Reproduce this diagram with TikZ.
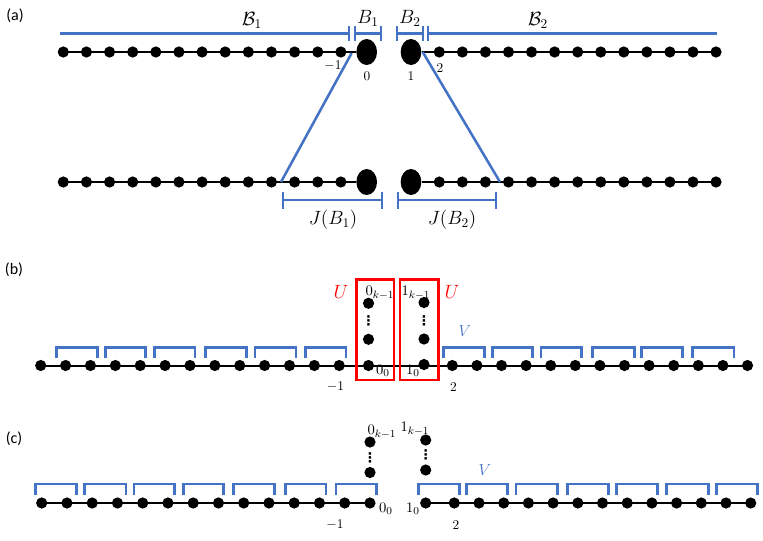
\documentclass[tikz,border=0pt]{standalone}
\usepackage{fontspec}
\newfontfamily\calib{Carlito}
\newfontfamily\djv{DejaVu Sans}
\usetikzlibrary{shapes.geometric}
\definecolor{myblue}{RGB}{68,114,196}
\begin{document}
\begin{tikzpicture}[x=0.75pt,y=-0.75pt,
  dot/.style={circle,fill=black,inner sep=0pt,minimum size=8.4pt},
  bigdot/.style={ellipse,fill=black,inner sep=0pt,minimum width=15.5pt,minimum height=19.5pt},
  chain/.style={line width=1.5pt},
  blueline/.style={draw=myblue,line width=1.9pt},
  redbox/.style={draw=red,line width=1.9pt},
  lbl/.style={inner sep=0pt,font=\fontsize{14}{16}\selectfont},
  num/.style={inner sep=0pt,font=\fontsize{10}{12}\selectfont},
  idx/.style={inner sep=0pt,font=\fontsize{11}{13}\selectfont},
  vd/.style={inner sep=0pt,font=\djv\bfseries\fontsize{10}{12}\selectfont},
  panel/.style={inner sep=0pt,font=\calib\fontsize{12}{14}\selectfont}]
\useasboundingbox (0,0) rectangle (763,540);

% ---------------- panel (a)
\node[panel] (pa) at (15,16) {(a)};
% top row
\foreach \i in {0,...,12} \node[dot] (atL\i) at ({63.3+23.13*\i},52) {};
\node[bigdot] (at0) at (366.7,52) {};
\node[bigdot] (at1) at (411,52) {};
\foreach \i in {0,...,12} \node[dot] (atR\i) at ({439.3+23.06*\i},52) {};
\draw[chain] (atL0.center) -- (at0);
\draw[chain] (at1) -- (atR12.center);
% bottom row
\foreach \i in {0,...,12} \node[dot] (abL\i) at ({63.3+23.13*\i},182) {};
\node[bigdot] (ab0) at (366.7,182) {};
\node[bigdot] (ab1) at (411,182) {};
\foreach \i in {0,...,12} \node[dot] (abR\i) at ({439.3+23.06*\i},182) {};
\draw[chain] (abL0.center) -- (ab0);
\draw[chain] (ab1) -- (abR12.center);
% intervals on top
\draw[blueline] (60,33.5) -- (349,33.5) (349,26) -- (349,41);
\draw[blueline] (355,26) -- (355,41) (355,33.5) -- (381,33.5) (381,26) -- (381,41);
\draw[blueline] (397,26) -- (397,41) (397,33.5) -- (423,33.5) (423,26) -- (423,41);
\draw[blueline] (428,26) -- (428,41) (428,33.5) -- (717,33.5);
\node[lbl] (lcb1) at (252,20) {$\mathcal{B}_1$};
\node[lbl] (lb1) at (368,18) {$B_1$};
\node[lbl] (lb2) at (410,18) {$B_2$};
\node[lbl] (lcb2) at (538,20) {$\mathcal{B}_2$};
\node[num] (am1) at (333,66) {$-1$};
\node[num] (a0) at (367,76) {$0$};
\node[num] (a1) at (411,76) {$1$};
\node[num] (a2) at (440,68) {$2$};
% diagonals
\coordinate (d1a) at (351.7,53);
\coordinate (d1b) at (281,182);
\coordinate (d2a) at (422.7,52);
\coordinate (d2b) at (500,182);
\draw[blueline] (d1a) -- (d1b);
\draw[blueline] (d2a) -- (d2b);
% intervals on bottom
\draw[blueline] (283,191.5) -- (283,208.5) (283,200) -- (382,200) (382,191.5) -- (382,208.5);
\draw[blueline] (398,191.5) -- (398,208.5) (398,200) -- (496,200) (496,191.5) -- (496,208.5);
\node[lbl] (lj1) at (333,220) {$J(B_1)$};
\node[lbl] (lj2) at (452,220) {$J(B_2)$};

% ---------------- panel (b)
\node[panel] (pb) at (14,270) {(b)};
\foreach \i in {0,...,12} \node[dot] (bL\i) at ({40.7+24.88*\i},365.5) {};
\node[dot] (b00) at (368.5,365.5) {};
\node[dot] (b01) at (368.5,339.3) {};
\node[dot] (b0k) at (368.5,303.3) {};
\node[vd] (b0v) at (368.5,321) {⋮};
\node[dot] (b10) at (424,364.5) {};
\node[dot] (b11) at (424,339) {};
\node[dot] (b1k) at (424,302.5) {};
\node[vd] (b1v) at (424,320.5) {⋮};
\foreach \i in {0,...,12} \node[dot] (bR\i) at ({452.3+24.6*\i},365.5) {};
\draw[chain] (bL0.center) -- (bR12.center);
\foreach \a/\b in {56.7/97.7,105.7/145.7,154.3/195,205.7/246.7,255/296,305.7/346,
                   443.3/484.3,492.3/532.7,541/581.7,592.7/634.3,641.7/682.3,692.7/734}
  \draw[blueline] (\a,358.3) -- (\a,347.3) -- (\b,347.3) -- (\b,358.3);
\draw[redbox] (356.7,279.3) rectangle (394,380);
\draw[redbox] (400,279.3) rectangle (438.3,380);
\node[lbl,text=red] (bu1) at (341,292) {$U$};
\node[lbl,text=red] (bu2) at (452,292) {$U$};
\node[lbl,text=myblue,font=\fontsize{12}{14}\selectfont] (bv) at (465,331) {$V$};
\node[idx] (b0kl) at (380,293) {$0_{k-1}$};
\node[idx] (b1kl) at (416,293) {$1_{k-1}$};
\node[idx] (b00l) at (383,371) {$0_0$};
\node[idx] (b10l) at (413,371) {$1_0$};
\node[num] (bm1) at (335.5,387) {$-1$};
\node[num] (b2) at (453.5,387) {$2$};

% ---------------- panel (c)
\node[panel] (pc) at (14,439) {(c)};
\foreach \i in {0,...,13} \node[dot] (cL\i) at ({41.7+25.25*\i},503) {};
\node[dot] (c01) at (370,472.5) {};
\node[dot] (c0k) at (370,442) {};
\node[vd] (c0v) at (370,457.5) {⋮};
\node[dot] (c10) at (425.7,503) {};
\node[dot] (c11) at (425.7,470) {};
\node[dot] (c1k) at (425.7,440) {};
\node[vd] (c1v) at (425.7,455) {⋮};
\foreach \i in {0,...,12} \node[dot] (cR\i) at ({454.3+24.7*\i},503) {};
\draw[chain] (cL0.center) -- (cL13.center);
\draw[chain] (c10.center) -- (cR12.center);
\foreach \a/\b in {35.7/76.7,84.3/126,134/174.3,183.3/223.3,233.3/274.3,285.7/326,336/376.7,
                   418.3/459.3,466.7/507.7,516/557.7,567.7/608.3,616.7/657.3,666.7/708.3,716.7/757.7}
  \draw[blueline] (\a,495) -- (\a,484) -- (\b,484) -- (\b,495);
\node[lbl,text=myblue,font=\fontsize{12}{14}\selectfont] (cv) at (485,470) {$V$};
\node[idx] (c0kl) at (382,432) {$0_{k-1}$};
\node[idx] (c1kl) at (415,429) {$1_{k-1}$};
\node[idx] (c00l) at (386,509) {$0_0$};
\node[idx] (c10l) at (413,509) {$1_0$};
\node[num] (cm1) at (335,525) {$-1$};
\node[num] (c2) at (456,525) {$2$};
\end{tikzpicture}
\end{document}
